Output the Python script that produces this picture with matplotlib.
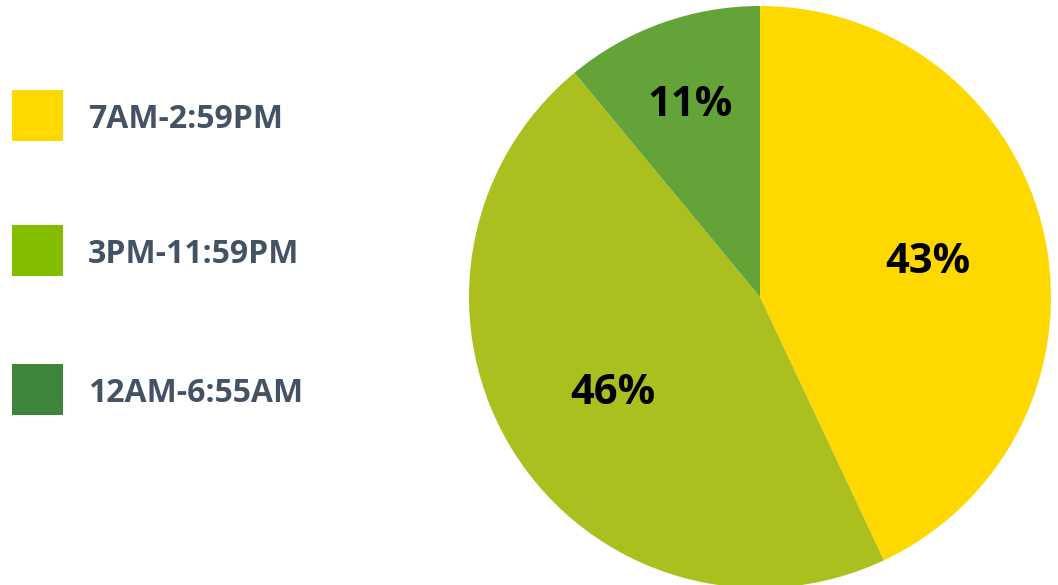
import numpy as np
import matplotlib.pyplot as plt
from matplotlib.patches import Rectangle

shifts = ['7AM-2:59PM', '3PM-11:59PM', '12AM-6:55AM']
shares = [43, 46, 11]
pie_colors = ['#FFD800', '#ABBF1E', '#64A337']
legend_colors = ['#FFD800', '#84BD00', '#3F863C']
label_dist = [0.59, 0.60, 0.71]

plt.rcParams['font.family'] = ['Open Sans', 'DejaVu Sans']

W, H = 1058, 585
fig = plt.figure(figsize=(W / 100, H / 100), dpi=100)
ax = fig.add_axes([0, 0, 1, 1])

cx, cy, r = 760, H - 297, 291
wedges, _ = ax.pie(shares, colors=pie_colors, startangle=90, counterclock=False,
                   center=(cx, cy), radius=r, frame=True)
ax.set_xlim(0, W)
ax.set_ylim(0, H)
ax.set_aspect('equal')
ax.axis('off')

# percentage labels inside each wedge
for w, val, d in zip(wedges, shares, label_dist):
    ang = np.deg2rad((w.theta1 + w.theta2) / 2)
    ax.text(cx + d * r * np.cos(ang), cy + d * r * np.sin(ang) - 3, f'{val}%',
            ha='center', va='center', fontsize=30, fontweight='bold', color='black')

# legend on the left
legend_y = [115.5, 250.5, 389.5]
for name, col, y in zip(shifts, legend_colors, legend_y):
    ax.add_patch(Rectangle((12, H - y - 25.5), 51, 51, color=col, lw=0))
    ax.text(88, H - y - 4, name, ha='left', va='center', fontsize=23,
            fontweight='bold', color='#435365')

fig.savefig('out.png', dpi=100)
